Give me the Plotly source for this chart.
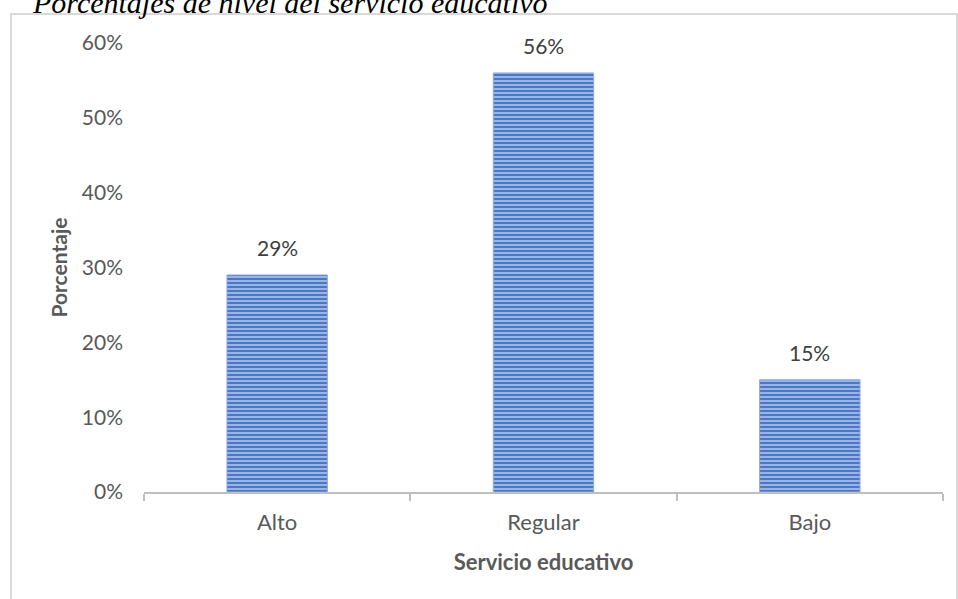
import plotly.graph_objects as go

categories = ["Alto", "Regular", "Bajo"]
values = [0.29, 0.56, 0.15]
labels = ["29%", "56%", "15%"]
y_ticks = [0, 0.1, 0.2, 0.3, 0.4, 0.5, 0.6]
y_ticktext = ["0%", "10%", "20%", "30%", "40%", "50%", "60%"]

W, H = 958, 599
L, R, T, B = 144, 15, 43, 107
pw, ph = W - L - R, H - T - B

def px(x):
    return (x - L) / pw

def py(y):
    return (H - B - y) / ph

FONT = "Lato"
TXT = "#595959"

fig = go.Figure()
fig.add_trace(go.Bar(
    x=categories, y=values,
    marker=dict(
        color="#4A78C8",
        line=dict(color="#8FAADC", width=1),
        pattern=dict(shape="-", fillmode="overlay", fgcolor="#D3DEF3", fgopacity=0.85,
                     size=4, solidity=0.35),
    ),
    width=0.377,
    hoverinfo="skip",
))

for c, v, t in zip(categories, values, labels):
    fig.add_annotation(x=c, y=v, text=t, showarrow=False, yanchor="bottom", yshift=13,
                       font=dict(family=FONT, size=21, color="#404040"))

fig.add_annotation(xref="paper", yref="paper", x=px(30), y=py(21), xanchor="left", yanchor="bottom",
                   text="<i>Porcentajes de nivel del servicio educativo</i>", showarrow=False,
                   font=dict(family="Liberation Serif", size=30, color="#000000"))

fig.add_shape(type="rect", xref="paper", yref="paper",
              x0=px(11), x1=px(957), y0=py(640), y1=py(14),
              line=dict(color="#D9D9D9", width=2), layer="below")

fig.update_layout(
    width=W, height=H,
    margin=dict(l=L, r=R, t=T, b=B),
    paper_bgcolor="white", plot_bgcolor="white",
    showlegend=False,
    font=dict(family=FONT, size=20, color=TXT),
    xaxis=dict(
        showline=True, linecolor="#BFBFBF", linewidth=2,
        ticks="outside", tickcolor="#BFBFBF", ticklen=7, tickwidth=2,
        tickson="boundaries", showgrid=False,
        tickfont=dict(family=FONT, size=22, color=TXT),
        ticklabelstandoff=10,
        title=dict(text="<b>Servicio educativo</b>", standoff=20,
                   font=dict(family=FONT, size=22, color=TXT)),
    ),
    yaxis=dict(
        range=[0, 0.6], tickvals=y_ticks, ticktext=y_ticktext,
        showgrid=False, showline=False, zeroline=False, ticks="",
        tickfont=dict(family=FONT, size=21, color=TXT),
        ticklabelstandoff=20,
        title=dict(text="<b>Porcentaje</b>", standoff=8,
                   font=dict(family=FONT, size=21, color=TXT)),
    ),
)

fig.write_html("out.html")
